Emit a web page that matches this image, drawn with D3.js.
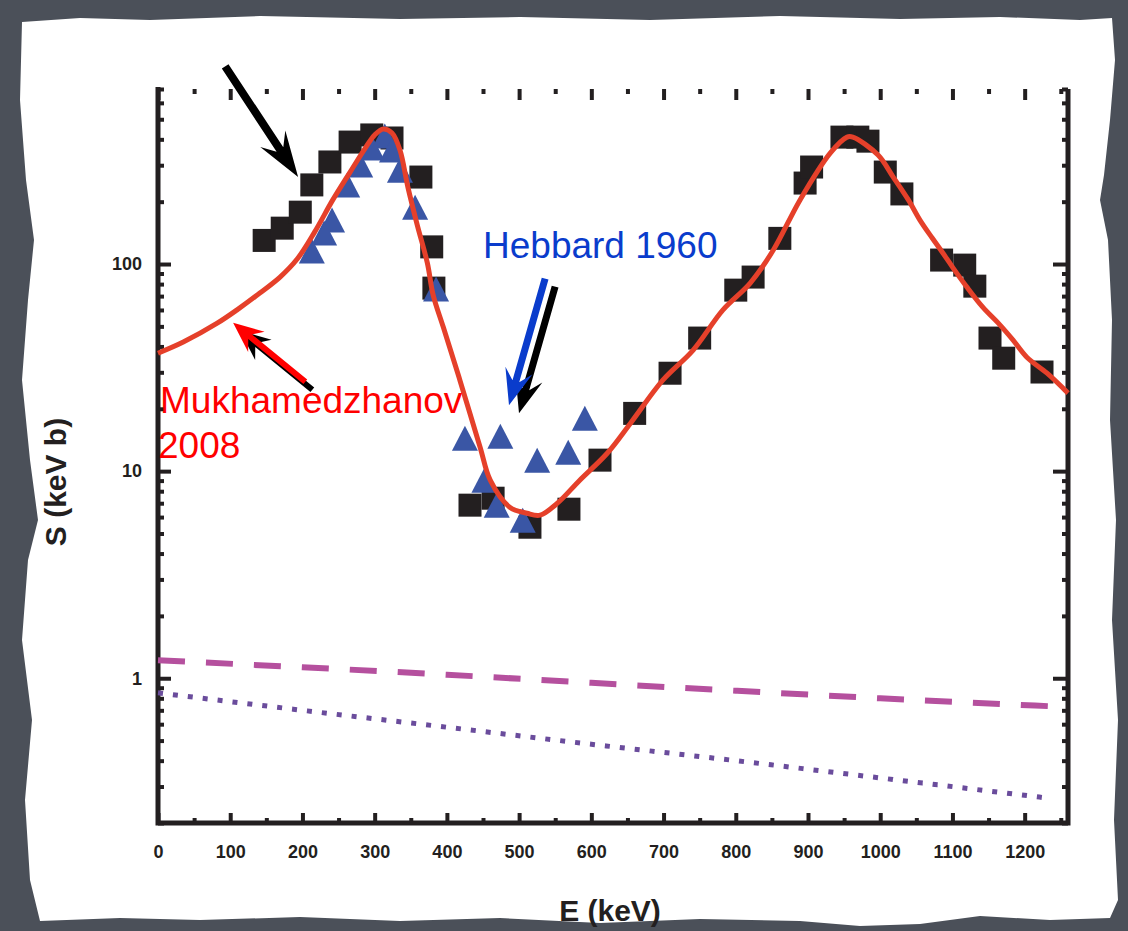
<!DOCTYPE html>
<html><head><meta charset="utf-8">
<script src="https://cdn.jsdelivr.net/npm/d3@7"></script>
<style>html,body{margin:0;padding:0;background:#4b5059;} svg{display:block}</style>
</head><body>
<svg id="chart" width="1128" height="931"></svg>
<script>
// ---------- data ----------
const xTicks = [0,100,200,300,400,500,600,700,800,900,1000,1100,1200];
const xMinorTicks = [50,150,250,350,450,550,650,750,850,950,1050,1150,1250];
const yTicks = [1,10,100];
const yMinorTicks = [0.2,0.3,0.4,0.5,0.6,0.7,0.8,0.9,2,3,4,5,6,7,8,9,20,30,40,50,60,70,80,90,200,300,400,500,600,700];

// R-matrix fit (Mukhamedzhanov 2008), E in keV, S in keV b
const fitEnergy = [0,35,82,109,141,169,193,217,242,266,287,300,312,324,335,346,359,373,381,395,418,446,460,487,511,529,553,584,622,654,699,741,782,820,852,889,931,954,962,997,1018,1039,1055,1072,1086,1101,1120,1142,1166,1184,1203,1231,1260];
const fitS = [37.1,42.0,51.8,59.9,72.4,86.5,106,143,204,278,363,420,449,429,355,235,154,101,70.8,49.6,27.5,13.05,9.04,6.70,6.26,6.13,7.00,9.04,12.2,17.0,27.5,38.4,59.9,80.9,116.8,204,344,410,410,336,263,204,163,133.5,114,95.6,77.4,61.9,50.7,42.9,35.5,29.7,23.8];

// black squares data
const squareEnergy = [147,172,197,213,238,266,296,324,364,379,382,432,464,515,569,612,660,709,750,800,824,861,896,905,947,969,983,1007,1030,1085,1117,1131,1152,1171,1224];
const squareS = [130,149,178,241,311,388,420,406,263,121,76.5,6.85,7.40,5.36,6.55,11.3,19.0,29.7,43.9,74.8,86.5,133,246,294,410,410,392,278,218,104.5,98.8,78.2,43.9,35.1,30.1];

// Hebbard 1960 triangles
const hebbardEnergy = [213,230,241,262,280,296,314,324,335,356,385,425,452,469,474,505,525,568,591];
const hebbardS = [115.5,141,163,241,301,363,415,355,284,188,75.7,14.4,9.04,6.85,14.75,5.79,11.3,12.35,18.0];

// dashed component
const dashedEnergy = [0,200,400,600,800,1000,1245];
const dashedS = [1.22,1.13,1.04,0.95,0.87,0.80,0.73];
// dotted component
const dottedEnergy = [0,200,400,600,800,1000,1235];
const dottedS = [0.85,0.70,0.58,0.48,0.40,0.33,0.263];

// ---------- setup ----------
const svg = d3.select("#chart");
const W = 1128, H = 931;
svg.append("rect").attr("width", W).attr("height", H).attr("fill", "#4b5059");

const paper = [[22,22],[80,18],[150,20],[260,16],[400,19],[520,17],[650,20],[780,16],[900,19],[1000,17],[1080,20],[1112,18],
 [1115,60],[1110,120],[1104,175],[1100,200],[1108,240],[1112,320],[1110,420],[1116,520],[1112,620],[1118,720],[1114,820],[1118,900],
 [1110,918],[1050,920],[980,916],[920,924],[860,926],[800,921],[700,919],[600,923],[500,918],[400,921],[300,917],[200,920],[120,918],[40,921],
 [30,880],[25,800],[32,720],[22,640],[28,560],[38,520],[30,460],[22,380],[28,300],[34,240],[26,180],[20,100]];
svg.append("polygon").attr("points", paper.map(p => p.join(",")).join(" "))
  .attr("fill", "#ffffff");

const x = d3.scaleLinear().domain([0, 1260]).range([158, 1068]);
const y = d3.scaleLog().domain([0.2, 700]).range([823, 89]);
const ink = "#231f20";
const tickFont = "Liberation Sans, Arial, sans-serif";

// ---------- axes ----------
function styleAxis(g, w) {
  g.select(".domain").remove();
  g.selectAll(".tick line").attr("stroke", ink).attr("stroke-width", w);
  g.selectAll("text").attr("fill", ink).attr("font-family", tickFont)
    .attr("font-size", 18).attr("font-weight", "bold");
}
const axes = svg.append("g");
axes.append("g").attr("transform", "translate(0,823)")
  .call(d3.axisBottom(x).tickValues(xTicks).tickSize(-10).tickPadding(22).tickFormat(d3.format("d")))
  .call(g => styleAxis(g, 4));
axes.append("g").attr("transform", "translate(0,823)")
  .call(d3.axisBottom(x).tickValues(xMinorTicks).tickSize(-5).tickFormat(""))
  .call(g => styleAxis(g, 4));
axes.append("g").attr("transform", "translate(0,89)")
  .call(d3.axisTop(x).tickValues(xTicks).tickSize(-11).tickFormat(""))
  .call(g => styleAxis(g, 4));
axes.append("g").attr("transform", "translate(0,89)")
  .call(d3.axisTop(x).tickValues(xMinorTicks).tickSize(-5).tickFormat(""))
  .call(g => styleAxis(g, 4));
axes.append("g").attr("transform", "translate(158,0)")
  .call(d3.axisLeft(y).tickValues(yTicks).tickSize(-13).tickPadding(16).tickFormat(d3.format("d")))
  .call(g => styleAxis(g, 4));
axes.append("g").attr("transform", "translate(158,0)")
  .call(d3.axisLeft(y).tickValues(yMinorTicks).tickSize(-6).tickFormat(""))
  .call(g => styleAxis(g, 4));
axes.append("g").attr("transform", "translate(1068,0)")
  .call(d3.axisRight(y).tickValues(yTicks).tickSize(-15).tickFormat(""))
  .call(g => styleAxis(g, 4));
axes.append("g").attr("transform", "translate(1068,0)")
  .call(d3.axisRight(y).tickValues(yMinorTicks).tickSize(-6).tickFormat(""))
  .call(g => styleAxis(g, 4));
// frame lines (left, bottom, right)
const [x0, x1] = x.range(), [yb, yt] = y.range();
axes.append("path").attr("d", `M${x0},${yt - 2}V${yb}H${x1}V${yt}`)
  .attr("fill", "none").attr("stroke", ink).attr("stroke-width", 5);

// axis titles
svg.append("text").attr("x", (x0 + x1) / 2 - 3).attr("y", 921).attr("text-anchor", "middle")
  .attr("font-family", tickFont).attr("font-size", 30).attr("font-weight", "bold").attr("fill", ink)
  .text("E (keV)");
svg.append("text").attr("transform", "translate(66,482) rotate(-90)").attr("text-anchor", "middle")
  .attr("font-family", tickFont).attr("font-size", 30).attr("font-weight", "bold").attr("fill", ink)
  .text("S (keV b)");

// ---------- lines ----------
const plot = svg.append("g");
const line = d3.line().x(d => x(d[0])).y(d => y(d[1]));
plot.append("path").datum(d3.zip(dashedEnergy, dashedS)).attr("d", line.curve(d3.curveMonotoneX))
  .attr("fill", "none").attr("stroke", "#b5509e").attr("stroke-width", 6).attr("stroke-dasharray", "27,21");
plot.append("path").datum(d3.zip(dottedEnergy, dottedS)).attr("d", line.curve(d3.curveMonotoneX))
  .attr("fill", "none").attr("stroke", "#6a4c9c").attr("stroke-width", 5).attr("stroke-dasharray", "5,10");

// black squares
const sq = 23;
plot.append("g").selectAll("rect").data(d3.zip(squareEnergy, squareS)).join("rect")
  .attr("x", d => x(d[0]) - sq / 2).attr("y", d => y(d[1]) - sq / 2)
  .attr("width", sq).attr("height", sq).attr("fill", ink);

// blue triangles
const tb = 26, th = 25;
plot.append("g").selectAll("path").data(d3.zip(hebbardEnergy, hebbardS)).join("path")
  .attr("d", d => {
    const cx = x(d[0]), cy = y(d[1]);
    return `M${cx},${cy - th / 2}L${cx + tb / 2},${cy + th / 2}L${cx - tb / 2},${cy + th / 2}Z`;
  })
  .attr("fill", "#3a56a5");

// fit curve
plot.append("path").datum(d3.zip(fitEnergy, fitS))
  .attr("d", d3.line().x(d => x(d[0])).y(d => y(d[1])).curve(d3.curveCatmullRom.alpha(0.5)))
  .attr("fill", "none").attr("stroke", "#e5402a").attr("stroke-width", 5).attr("stroke-linejoin", "round");

// ---------- annotations ----------
function arrowPoints(p1, p2, w, L, Hh, N) {
  const dx = p2[0] - p1[0], dy = p2[1] - p1[1], len = Math.hypot(dx, dy);
  const ux = dx / len, uy = dy / len, nx = -uy, ny = ux;
  const bx = p2[0] - ux * L, by = p2[1] - uy * L;
  const cx = p2[0] - ux * (L - N), cy = p2[1] - uy * (L - N);
  return [[p2[0], p2[1]], [bx + nx * Hh, by + ny * Hh], [cx + nx * w / 2, cy + ny * w / 2],
    [p1[0] + nx * w / 2, p1[1] + ny * w / 2], [p1[0] - nx * w / 2, p1[1] - ny * w / 2],
    [cx - nx * w / 2, cy - ny * w / 2], [bx - nx * Hh, by - ny * Hh]];
}
function drawArrow(tail, tip, color, w, L, Hh, N, off) {
  const p1 = [x(tail[0]) + off[0], y(tail[1]) + off[1]], p2 = [x(tip[0]) + off[0], y(tip[1]) + off[1]];
  svg.append("polygon").attr("points", arrowPoints(p1, p2, w, L, Hh, N).map(p => p.join(",")).join(" "))
    .attr("fill", color);
}
// black arrow pointing at the black squares
drawArrow([93, 900], [194, 263], "#000", 8, 46, 15, 13, [0, 0]);
// Hebbard arrows (black behind blue)
drawArrow([536, 85], [486, 20.8], "#000", 7, 36, 14, 11, [10, 8]);
drawArrow([536, 85], [486, 20.8], "#0a3ccc", 7, 36, 14, 11, [0, 0]);
// Mukhamedzhanov arrow (black behind red)
drawArrow([204, 27], [104, 52], "#000", 6, 30, 13, 8, [7, 8]);
drawArrow([204, 27], [104, 52], "#ff0000", 6, 30, 13, 8, [0, 0]);

const lab = { font: "Liberation Sans, Arial, sans-serif", size: 37 };
svg.append("text").attr("x", x(450)).attr("y", y(106.8)).text("Hebbard 1960")
  .attr("font-family", lab.font).attr("font-size", lab.size).attr("fill", "#0a3ccc");
svg.append("text").attr("x", x(2.8)).attr("y", y(19.05)).text("Mukhamedzhanov")
  .attr("font-family", lab.font).attr("font-size", lab.size).attr("fill", "#ff0000");
svg.append("text").attr("x", x(0)).attr("y", y(11.6)).text("2008")
  .attr("font-family", lab.font).attr("font-size", lab.size).attr("fill", "#ff0000");
</script>
</body></html>
